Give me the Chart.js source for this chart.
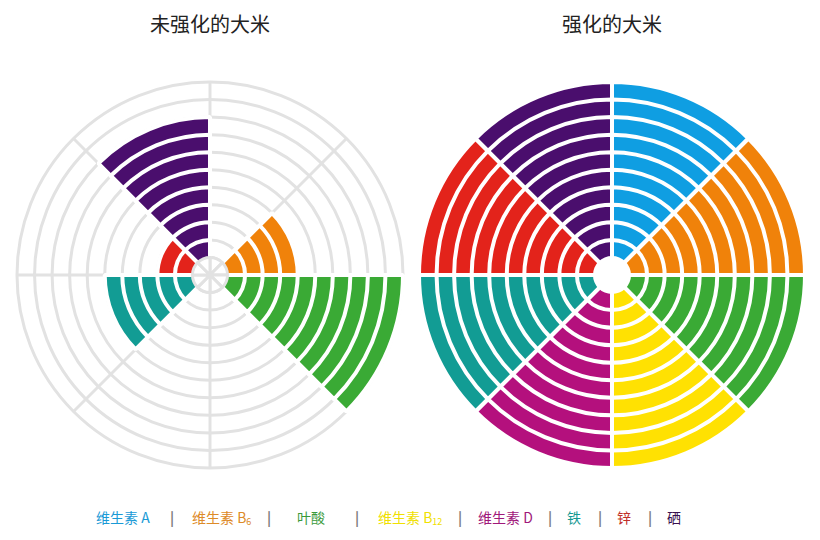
<!DOCTYPE html>
<html>
<head>
<meta charset="utf-8">
<script src="https://cdn.jsdelivr.net/npm/chart.js@4/dist/chart.umd.min.js"></script>
<style>
  html, body { margin: 0; padding: 0; background: #fff; }
  body { width: 820px; height: 540px; position: relative; overflow: hidden;
         font-family: "Noto Sans CJK SC", "Noto Sans", sans-serif; }
  .title { position: absolute; top: 9px; width: 300px; text-align: center;
           font-size: 20px; color: #222; }
  .box { position: absolute; top: 78px; width: 394px; height: 394px; }
  .legend span { position: absolute; top: 507px; font-size: 14px; white-space: nowrap; }
  .legend sub { font-size: 9px; vertical-align: -2px; }
  .legend .sep { color: #7a7a7a; font-weight: bold; }
</style>
</head>
<body>
<div class="title" style="left:60px">未强化的大米</div>
<div class="title" style="left:462px">强化的大米</div>
<div class="box" style="left:13px"><canvas id="plain"></canvas></div>
<div class="box" style="left:415px"><canvas id="fortified"></canvas></div>
<div class="legend" id="legend"></div>

<script>
// nutrients, clockwise from 12 o'clock
const nutrients = ['维生素 A', '维生素 B6', '叶酸', '维生素 B12', '维生素 D', '铁', '锌', '硒'];
const legendHtml = ['维生素 A', '维生素 B<sub>6</sub>', '叶酸', '维生素 B<sub>12</sub>', '维生素 D', '铁', '锌', '硒'];

// rings filled per nutrient (out of 10)
const unfortified = [0, 4, 10, 0, 0, 5, 2, 8];
const fortified = [10, 10, 10, 10, 10, 10, 10, 10];

// ring boundaries, 0 is the white hole in the middle
const ringLevels = [0, 1, 2, 3, 4, 5, 6, 7, 8, 9, 10];

const sliceColors = ['#0f9ee2', '#f0820a', '#3aaa35', '#ffe102', '#b4107d', '#129c94', '#e3231b', '#4a0e6d'];
const legendColors = ['#1a9ad6', '#dd8a28', '#3a9a3a', '#f0e000', '#a0187a', '#169a93', '#c0302a', '#3a1050'];
const legendX = [96, 192, 297, 378, 478, 567, 617, 667];
const sepX = [170, 267, 355, 458, 548, 598, 648];

const GRID = '#e2e2e2';

// one polar dataset per ring; inner rings sit on top of outer ones
function buildDatasets(values, holeBorder) {
  return ringLevels.map(k => ({
    data: nutrients.map(() => k),
    angle: 360 / nutrients.length,
    backgroundColor: values.map((v, i) => k === 0 ? '#fff' : (v >= k ? sliceColors[i] : 'rgba(0,0,0,0)')),
    borderColor: values.map(v => k === 0 ? holeBorder : (v >= k ? '#fff' : 'rgba(0,0,0,0)')),
    borderWidth: k === 0 ? 3 : 4
  }));
}

function makeChart(id, values, showGrid) {
  const ctx = document.getElementById(id).getContext('2d');
  return new Chart(ctx, {
    type: 'polarArea',
    data: {
      labels: nutrients,
      datasets: buildDatasets(values, showGrid ? GRID : '#fff')
    },
    options: {
      responsive: true,
      maintainAspectRatio: false,
      animation: false,
      layout: { padding: 4 },
      plugins: {
        legend: { display: false },
        tooltip: { enabled: false }
      },
      scales: {
        r: {
          min: -1,
          max: 10,
          startAngle: 0,
          ticks: { display: false, stepSize: 1 },
          pointLabels: { display: false },
          grid: { display: showGrid, circular: true, color: GRID, lineWidth: 3 },
          angleLines: { display: showGrid, color: GRID, lineWidth: 3 }
        }
      }
    }
  });
}

makeChart('plain', unfortified, true);
makeChart('fortified', fortified, false);

// legend row
const legend = document.getElementById('legend');
let html = '';
legendHtml.forEach((txt, i) => {
  html += `<span style="left:${legendX[i]}px;color:${legendColors[i]}">${txt}</span>`;
});
sepX.forEach(x => {
  html += `<span class="sep" style="left:${x}px">|</span>`;
});
legend.innerHTML = html;
</script>
</body>
</html>
